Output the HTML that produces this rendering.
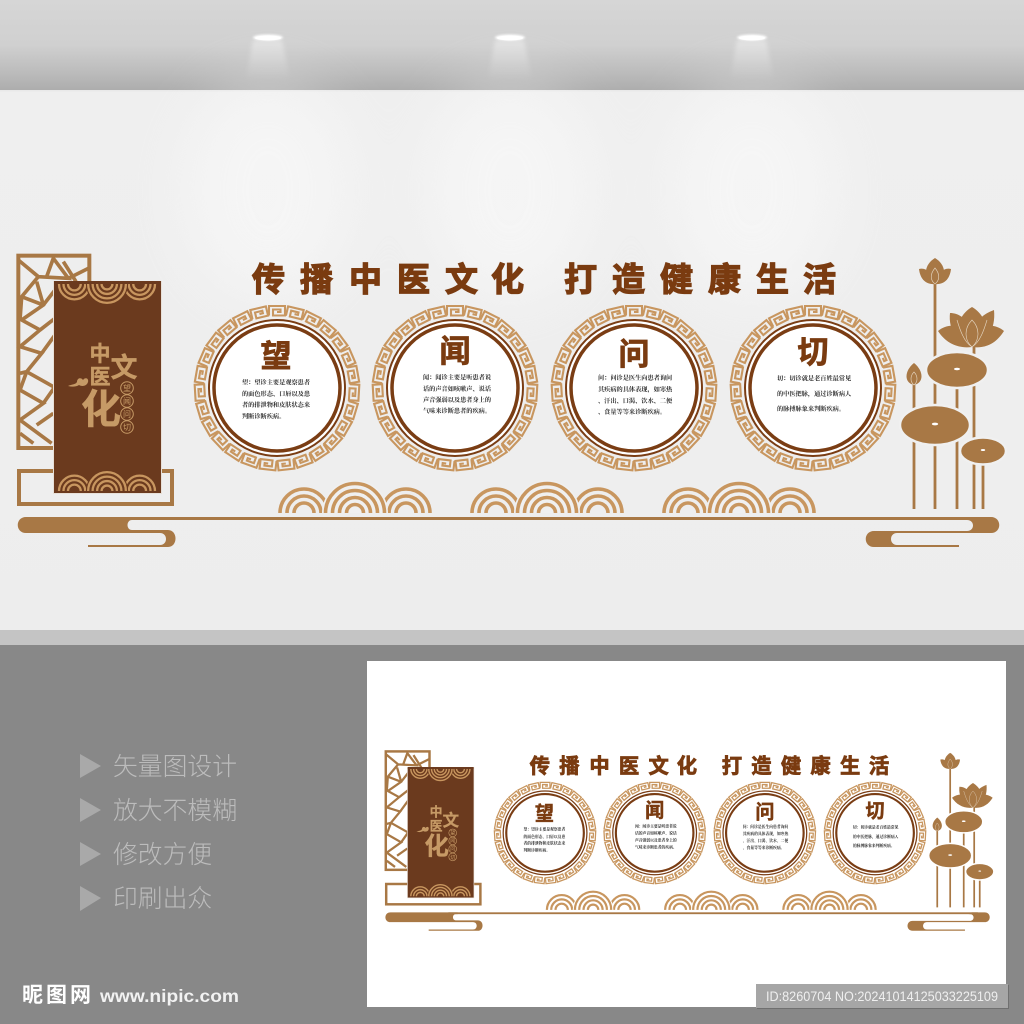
<!DOCTYPE html>
<html><head><meta charset="utf-8"><style>
html,body{margin:0;padding:0;background:#888}
svg{display:block}
.cjk{font-family:"Liberation Sans","Noto Sans CJK SC",sans-serif}
.ser{font-family:"Liberation Serif","Noto Serif CJK SC",serif}
</style></head><body>
<svg xmlns="http://www.w3.org/2000/svg" width="1024" height="1024" viewBox="0 0 1024 1024">
<defs>
<linearGradient id="top" x1="0" y1="0" x2="0" y2="1"><stop offset="0" stop-color="#d6d6d6"/><stop offset=".5" stop-color="#d0d0d0"/><stop offset=".8" stop-color="#bcbcbc"/><stop offset="1" stop-color="#adadad"/></linearGradient>
<linearGradient id="cone" x1="0" y1="0" x2="0" y2="1"><stop offset="0" stop-color="#fff" stop-opacity=".38"/><stop offset="1" stop-color="#fff" stop-opacity="0"/></linearGradient>
<linearGradient id="wall" x1="0" y1="0" x2="0" y2="1"><stop offset="0" stop-color="#efefef"/><stop offset=".6" stop-color="#eeeeee"/><stop offset="1" stop-color="#ededed"/></linearGradient>
<filter id="b30" x="-50%" y="-50%" width="200%" height="200%"><feGaussianBlur stdDeviation="30"/></filter>
<filter id="b2" x="-30%" y="-30%" width="160%" height="160%"><feGaussianBlur stdDeviation="2"/></filter>
<filter id="b1" x="-30%" y="-100%" width="160%" height="300%"><feGaussianBlur stdDeviation="1"/></filter>

<path id="k" d="M-8,-72.5 V-82 H8 V-72.500 H-4 V-78.500 H3.500 V-76 H0" fill="none" stroke="#c8965f" stroke-width="2.100"/>
<g id="k9"><use href="#k"/><use href="#k" transform="rotate(13.333)"/><use href="#k" transform="rotate(26.667)"/><use href="#k" transform="rotate(40)"/><use href="#k" transform="rotate(53.333)"/><use href="#k" transform="rotate(66.667)"/><use href="#k" transform="rotate(80)"/><use href="#k" transform="rotate(93.333)"/><use href="#k" transform="rotate(106.667)"/></g>
<g id="ring">
<circle r="69" fill="#fff"/>
<use href="#k9"/><use href="#k9" transform="rotate(120)"/><use href="#k9" transform="rotate(240)"/>
<circle r="68" fill="none" stroke="#7a3d14" stroke-width="2"/>
<circle r="63" fill="#fff" stroke="#7a3d14" stroke-width="3.500"/>
</g>

<g id="side" fill="none" stroke="#c8965f" stroke-width="3.600"><path d="M-24,0A24,24 0 0 1 24,0M-17,0A17,17 0 0 1 17,0M-10,0A10,10 0 0 1 10,0"/></g>
<g id="sc">
<use href="#side" x="-51"/><use href="#side" x="51"/>
<path d="M-33,0A33,33 0 0 1 33,0Z" fill="currentColor"/>
<path d="M-29.500,0A29.500,29.500 0 0 1 29.500,0M-22.500,0A22.500,22.500 0 0 1 22.500,0M-15.500,0A15.500,15.500 0 0 1 15.500,0M-8.500,0A8.500,8.500 0 0 1 8.500,0" fill="none" stroke="#c8965f" stroke-width="3.600"/>
</g>

<g id="d">
<!-- lattice -->
<g transform="translate(0,240) scale(.33333)" fill="none" stroke="#a87845" stroke-width="11">
<path d="M55,60L115,110L65,170L130,195M115,110L205,115L160,55L140,110M205,115L265,85M190,65L228,125M110,125L130,195L65,240L120,270M130,195L165,150M120,270L60,320L125,340L80,395L160,440M125,340L165,285M80,395L60,450L130,490L60,540L155,610M130,490L165,440M110,555L160,520M60,580L100,610M120,270L165,235M65,170L60,240M60,400L80,395"/>
<rect x="55" y="47" width="213" height="577" stroke-width="12"/>
</g>
<rect x="19" y="471" width="153" height="33" fill="none" stroke="#a87845" stroke-width="4"/>
<rect x="53" y="281" width="109" height="213" fill="#e8e0d8"/>
<rect x="54" y="282" width="107" height="211" fill="#6b3a1e"/>
<use href="#sc" transform="translate(107,284) scale(.64,-.64)" color="#6b3a1e"/>
<use href="#sc" transform="translate(107,491) scale(.64)" color="#6b3a1e"/>
<rect x="54" y="281" width="107" height="3" fill="#6b3a1e"/>
<g class="cjk" fill="#c69a66" stroke="#c69a66" stroke-width=".4" font-weight="700" text-anchor="middle">
<text x="100" y="361" font-size="21">中</text>
<text x="100" y="384" font-size="21">医</text>
<text x="124" y="377" font-size="27">文</text>
<text x="101" y="423" font-size="40">化</text>
</g>
<g fill="none" stroke="#c69a66" stroke-width="1"><circle cx="127" cy="388" r="6.300"/><circle cx="127" cy="401" r="6.300"/><circle cx="127" cy="414" r="6.300"/><circle cx="127" cy="427" r="6.300"/></g>
<g class="cjk" fill="#c69a66" font-size="8" text-anchor="middle"><text x="127" y="391">望</text><text x="127" y="404">闻</text><text x="127" y="417">问</text><text x="127" y="430">切</text></g>
<path d="M68,386C72,384 75,385 77,382C77,378 81,377 83,380C85,377 89,378 88,382C87,386 82,387 79,385C76,387 72,387 68,386Z" fill="#c69a66"/>

<!-- title -->
<text class="cjk" y="291" font-size="33" font-weight="700" fill="#7a3b10" stroke="#7a3b10" stroke-width="1.300" x="252 300 349 397 445 491 564 612 660 708 756 803">传播中医文化打造健康生活</text>

<use href="#ring" x="277" y="388"/><use href="#ring" x="455" y="388"/><use href="#ring" x="634" y="388"/><use href="#ring" x="813" y="388"/>
<g class="cjk" font-size="31" font-weight="700" fill="#7a3b10" stroke="#7a3b10" stroke-width=".8" text-anchor="middle">
<text x="276" y="367">望</text><text x="455" y="362">闻</text><text x="634" y="365">问</text><text x="813" y="363">切</text>
</g>
<g class="ser" font-size="6.200" font-weight="700" fill="#2a2a2a">
<text x="242" y="384.500">望：望诊主要是观察患者</text><text x="242" y="396">的面色形态、口唇以及患</text><text x="242" y="407">者的排泄物和皮肤状态来</text><text x="242" y="418.500">判断诊断疾病。</text>
<text x="423" y="379.500">闻：闻诊主要是听患者说</text><text x="423" y="391">话的声音如咳嗽声、说话</text><text x="423" y="402">声音强弱以及患者身上的</text><text x="423" y="413">气味来诊断患者的疾病。</text>
<text x="598" y="380">问：问诊是医生向患者询问</text><text x="598" y="391.500">其疾病的具体表现，如寒热</text><text x="598" y="403">、汗出、口渴、饮水、二便</text><text x="598" y="414">、食量等等来诊断疾病。</text>
<text x="777" y="380.500">切：切诊就是老百姓最常见</text><text x="777" y="396">的中医把脉，通过诊断病人</text><text x="777" y="411">的脉搏脉象来判断疾病。</text>
</g>

<!-- scallops -->
<use href="#sc" transform="translate(355,513)"/><use href="#sc" transform="translate(547,513)"/><use href="#sc" transform="translate(739,513)"/>

<!-- ground clouds -->
<g fill="#a87845">
<rect x="120" y="517" width="860" height="3" />
<path d="M26,517H135V520H132C126,520 126,530 132,530H168C178,530 178,547 168,547H88V545H160C168,545 168,533 160,533H26C15,533 15,517 26,517Z"/>
<path d="M970,517H991C1002,517 1002,533 991,533H897C889,533 889,545 897,545H959V547H874C863,547 863,531 874,531H967C975,531 975,520 967,520H965Z"/>
</g>

<!-- lotus stems -->
<g stroke="#a87845" stroke-width="2.800" fill="none"><path d="M914,385V509M935,280V509M957,380V509M974,340V509M983,445V509"/></g>
<g fill="#a87845" stroke="currentColor" stroke-width="2.500">
<ellipse cx="957" cy="370" rx="31" ry="18"/>
<ellipse cx="935" cy="425" rx="35" ry="20"/>
<ellipse cx="983" cy="451" rx="23" ry="13.500"/>
</g>
<g fill="#fff"><ellipse cx="957" cy="369" rx="3" ry="1.300"/><ellipse cx="935" cy="424" rx="3.200" ry="1.400"/><ellipse cx="983" cy="450" rx="2.200" ry="1"/></g>
<g fill="#a87845">
<path d="M935,258C925,264 921,277 935,285C949,277 945,264 935,258Z"/>
<path d="M919,269C926,267 932,273 935,284C925,285 920,278 919,269Z"/>
<path d="M951,269C944,267 938,273 935,284C945,285 950,278 951,269Z"/>
<path d="M914,363C904,371 904,383 914,385C924,383 924,371 914,363Z"/>
<path d="M938,331C945,325 955,324 962,328L972,347C957,349 945,342 938,331Z"/>
<path d="M1004,331C997,325 987,324 982,328L972,347C987,349 997,342 1004,331Z"/>
<path d="M950,313C958,313 966,318 968,326L972,347C958,344 948,330 950,313Z"/>
<path d="M994,310C986,313 978,318 976,326L972,347C986,344 996,330 994,310Z"/>
<path d="M972,307C962,313 956,323 960,335L972,347L984,335C988,323 982,313 972,307Z"/>
</g>
<g fill="none" stroke="#e6d8c4" stroke-width=".6">
<path d="M972,320C964,328 964,340 972,347C980,340 980,328 972,320Z"/>
<path d="M957,320C960,330 964,342 972,347M987,320C984,330 980,342 972,347"/>
<path d="M935,268C930,274 930,280 935,284C940,280 940,274 935,268Z"/>
<path d="M914,372C910,376 910,382 914,385C918,382 918,376 914,372Z"/>
</g>
</g>
</defs>

<!-- backgrounds -->
<rect width="1024" height="90" fill="url(#top)"/>
<rect y="90" width="1024" height="540" fill="url(#wall)"/>
<rect y="90" width="1024" height="1.500" fill="#e9e9e9"/>
<g filter="url(#b30)" fill="#fff" opacity=".4">
<ellipse cx="268" cy="190" rx="85" ry="110"/><ellipse cx="510" cy="190" rx="85" ry="110"/><ellipse cx="752" cy="190" rx="85" ry="110"/>
</g>
<rect y="630" width="1024" height="15" fill="#c4c4c4"/>
<rect y="645" width="1024" height="379" fill="#888"/>

<!-- lamps -->
<g filter="url(#b2)" fill="url(#cone)">
<path d="M253,40H282L290,80H246Z"/><path d="M495,40H524L532,80H488Z"/><path d="M737,40H766L774,80H730Z"/>
</g>
<g filter="url(#b1)" fill="#fff">
<ellipse cx="268" cy="37.500" rx="15" ry="3"/><ellipse cx="510" cy="37.500" rx="15" ry="3"/><ellipse cx="752" cy="37.500" rx="15" ry="3"/>
</g>
<g fill="#fff"><ellipse cx="268" cy="38" rx="13" ry="2.500"/><ellipse cx="510" cy="38" rx="13" ry="2.500"/><ellipse cx="752" cy="38" rx="13" ry="2.500"/></g>

<!-- main design -->
<use href="#d" color="#f0f0f0"/>

<!-- thumbnail -->
<rect x="367" y="661" width="639" height="346" fill="#fff"/>
<use href="#d" color="#ffffff" transform="translate(374.500,594) scale(.6157)"/>

<!-- captions -->
<g fill="#a9a9a9"><path d="M80,754L101,766L80,778Z"/><path d="M80,798L101,810L80,822Z"/><path d="M80,842L101,854L80,866Z"/><path d="M80,886L101,898L80,911Z"/></g>
<g class="cjk" font-size="24.800" fill="#bcbcbc" font-weight="300">
<text x="113" y="775">矢量图设计</text><text x="113" y="819">放大不模糊</text><text x="113" y="863">修改方便</text><text x="113" y="907">印刷出众</text>
</g>

<!-- logo -->
<text class="cjk" x="22" y="1002" font-size="21" font-weight="700" fill="#fff" letter-spacing="3">昵图网</text>
<text x="100" y="1002" font-family="'Liberation Sans',sans-serif" font-size="17.500" font-weight="700" fill="#f2f2f2" textLength="139" lengthAdjust="spacingAndGlyphs">www.nipic.com</text>

<!-- watermark -->
<rect x="757" y="985" width="252" height="24" fill="#666" opacity=".7"/>
<rect x="756" y="984" width="252" height="24" fill="#a6a6a6"/>
<text x="766" y="1001" font-family="'Liberation Sans',sans-serif" font-size="13.500" fill="#efefef" textLength="232" lengthAdjust="spacingAndGlyphs">ID:8260704 NO:20241014125033225109</text>
</svg>
</body></html>
